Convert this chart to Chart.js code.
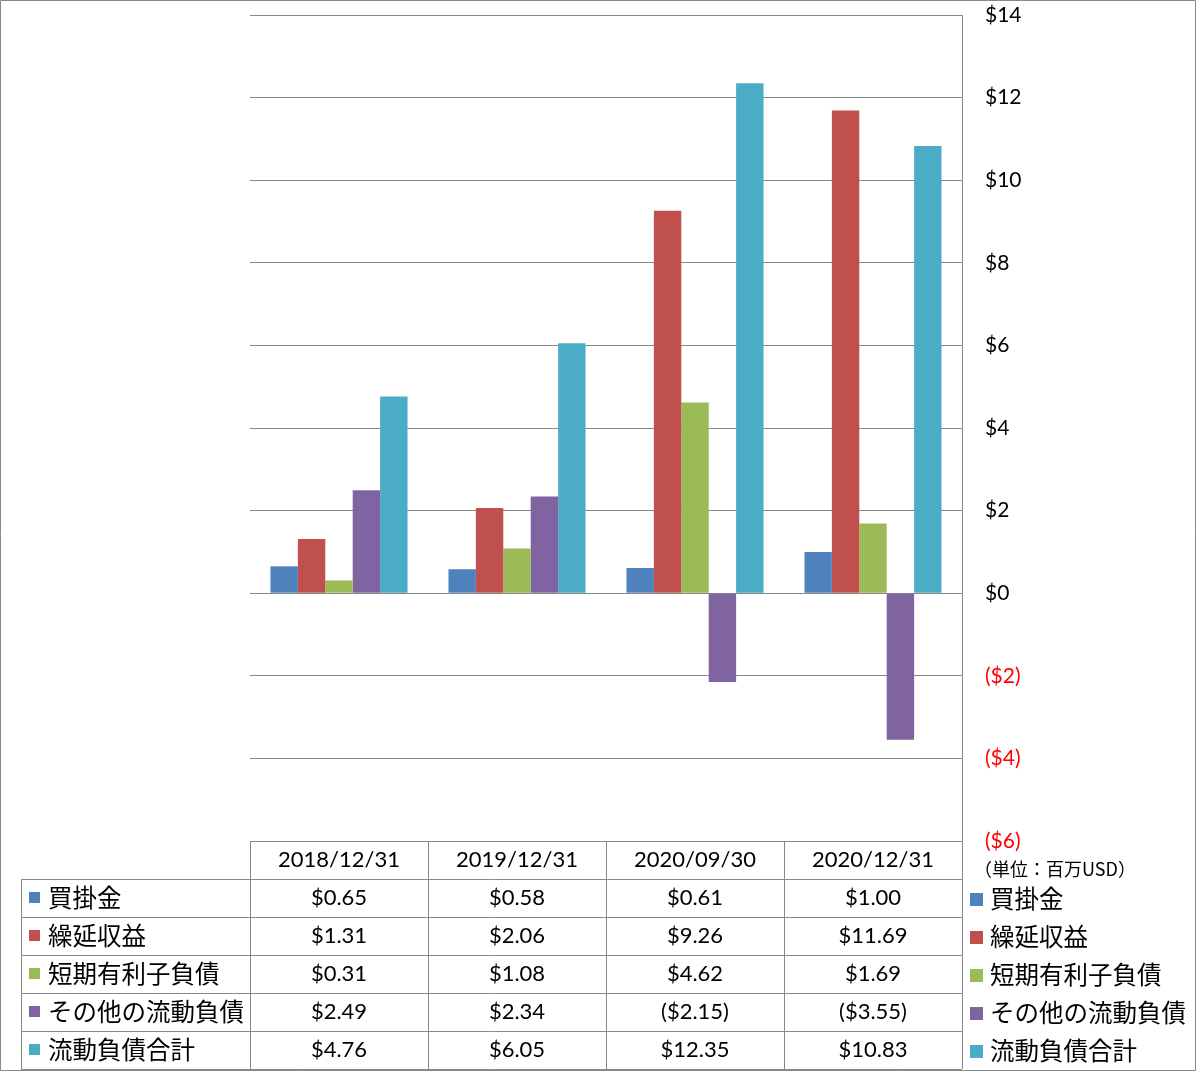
<!DOCTYPE html>
<html>
<head>
<meta charset="utf-8">
<script src="https://cdn.jsdelivr.net/npm/chart.js@4"></script>
<style>
  html, body { margin: 0; padding: 0; background: #fff; }
  canvas { display: block; }
</style>
</head>
<body>
<canvas id="liabChart" width="1196" height="1071"></canvas>
<script>
const categories = ['2018/12/31', '2019/12/31', '2020/09/30', '2020/12/31'];
const seriesNames = ['買掛金', '繰延収益', '短期有利子負債', 'その他の流動負債', '流動負債合計'];
const accountsPayable = [0.65, 0.58, 0.61, 1.00];
const deferredRevenue = [1.31, 2.06, 9.26, 11.69];
const shortTermDebt = [0.31, 1.08, 4.62, 1.69];
const otherCurrent = [2.49, 2.34, -2.15, -3.55];
const totalCurrent = [4.76, 6.05, 12.35, 10.83];
const tickMin = -6, tickMax = 14, tickStep = 2;
const unitNote = '（単位：百万USD）';

const seriesValues = [accountsPayable, deferredRevenue, shortTermDebt, otherCurrent, totalCurrent];
const colors = ['#4F81BD', '#C0504D', '#9BBB59', '#8064A2', '#4BACC6'];
const lineColor = '#888888';
const numFont = '22px Lato, "Noto Sans CJK JP", sans-serif';
const jpFont = '24.5px "Noto Sans CJK JP", sans-serif';

function money(v, digits) {
  const s = '$' + (digits == null ? String(Math.abs(v)) : Math.abs(v).toFixed(digits));
  return v < 0 ? '(' + s + ')' : s;
}

const tablePlugin = {
  id: 'dataTable',
  afterDraw(chart) {
    const ctx = chart.ctx;
    const area = chart.chartArea;
    const x = chart.scales.x;
    const rowH = 38;
    const top = Math.round(area.bottom);
    const left = Math.round(area.left);
    const right = Math.round(area.right);
    const legendLeft = 21;
    const bottom = top + rowH * 6;
    const bandW = (right - left) / categories.length;

    ctx.save();
    ctx.strokeStyle = lineColor;
    ctx.lineWidth = 1;
    ctx.beginPath();
    // row lines
    for (let r = 1; r <= 6; r++) {
      const y = top + rowH * r + 0.5;
      ctx.moveTo(legendLeft, y);
      ctx.lineTo(right, y);
    }
    ctx.moveTo(legendLeft + 0.5, top + rowH);
    ctx.lineTo(legendLeft + 0.5, bottom);
    for (let i = 0; i <= categories.length; i++) {
      const xx = Math.round(left + bandW * i) + 0.5;
      ctx.moveTo(xx, top);
      ctx.lineTo(xx, bottom);
    }
    // outer frame
    ctx.rect(0.5, 0.5, chart.width - 1, chart.height - 1);
    ctx.stroke();

    ctx.textBaseline = 'middle';
    ctx.textAlign = 'center';
    ctx.fillStyle = '#000';
    ctx.font = numFont;
    categories.forEach((c, i) => {
      ctx.fillText(c, x.getPixelForValue(i), top + rowH / 2);
    });
    seriesValues.forEach((vals, s) => {
      const cy = top + rowH * (s + 1) + rowH / 2;
      ctx.textAlign = 'center';
      ctx.font = numFont;
      ctx.fillStyle = '#000';
      vals.forEach((v, i) => ctx.fillText(money(v, 2), x.getPixelForValue(i), cy));
      // left legend key
      ctx.fillStyle = colors[s];
      ctx.fillRect(29, cy - 6, 11, 11);
      ctx.fillStyle = '#000';
      ctx.textAlign = 'left';
      ctx.font = jpFont;
      ctx.fillText(seriesNames[s], 48, cy);
      // right legend
      ctx.fillStyle = colors[s];
      ctx.fillRect(970, cy - 5, 13, 13);
      ctx.fillStyle = '#000';
      ctx.fillText(seriesNames[s], 990, cy + 1);
    });
    ctx.font = '18px "Noto Sans CJK JP", sans-serif';
    ctx.fillText(unitNote, 974, top + 28);
    ctx.restore();
  }
};

new Chart(document.getElementById('liabChart'), {
  type: 'bar',
  data: {
    labels: categories,
    datasets: seriesNames.map((name, i) => ({
      label: name,
      data: seriesValues[i],
      backgroundColor: colors[i],
      borderWidth: 0,
      categoryPercentage: 0.77,
      barPercentage: 1
    }))
  },
  options: {
    responsive: false,
    animation: false,
    layout: { padding: { left: 250, right: 0, top: 15, bottom: 230 } },
    plugins: { legend: { display: false }, tooltip: { enabled: false } },
    scales: {
      x: { display: false },
      y: {
        position: 'right',
        min: tickMin,
        max: tickMax,
        afterFit(scale) {
          scale.width = 234;
          scale.paddingTop = 0;
          scale.paddingBottom = 0;
        },
        grid: { color: lineColor, drawTicks: false },
        border: { display: true, color: lineColor },
        ticks: {
          stepSize: tickStep,
          padding: 23,
          crossAlign: 'near',
          font: { family: 'Lato, sans-serif', size: 21 },
          color: (c) => (c.tick && c.tick.value < 0 ? '#FF0000' : '#000000'),
          callback: (v) => money(v)
        }
      }
    }
  },
  plugins: [tablePlugin]
});
</script>
</body>
</html>
